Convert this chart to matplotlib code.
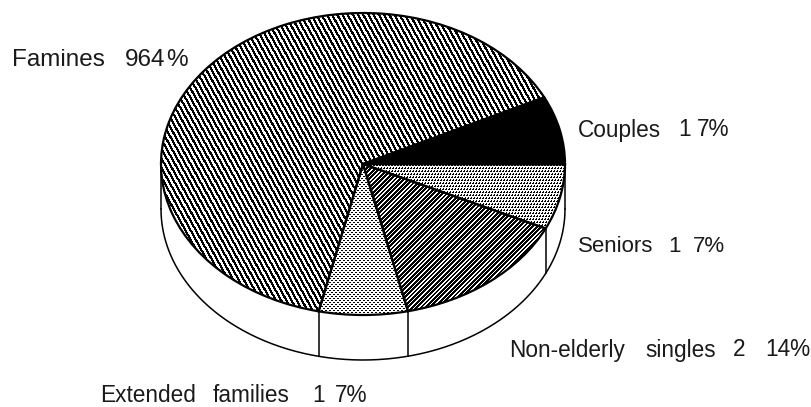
import numpy as np
import matplotlib
matplotlib.use('Agg')
import matplotlib.pyplot as plt

W, H = 811, 407

# pie shares, anticlockwise from the start of the big slice
groups = ['Families', 'Extended families', 'Non-elderly singles', 'Seniors', 'Couples']
shares = [64.2, 7.1, 14.4, 7.0, 7.3]

# label words as printed, the scan spreads them apart so each gets its own x
label_words = [
    ['Famines', '964', '%'],
    ['Couples', '1', '7%'],
    ['Seniors', '1', '7%'],
    ['Non-elderly', 'singles', '2', '14%'],
    ['Extended', 'families', '1', '7%'],
]

# pie geometry in pixels
cx, cy = 363, 164
rx, ry = 202, 151
depth = 45
start = 26.2


def stripes(xx, yy, period, slope, width):
    # True where ink, xx/yy are pixel indices
    return ((xx + slope * yy) % period) < width


def dots(xx, yy, period, rows):
    # staggered dot screen
    shift = (yy // rows) % 2 * (period // 2)
    return (((xx + shift) % period) == 0) & ((yy % rows) == 0)


plt.rcParams['font.family'] = ['Liberation Sans', 'DejaVu Sans']
fig = plt.figure(figsize=(W / 100, H / 100), dpi=100)
ax = fig.add_axes([0, 0, 1, 1])

wedges, _ = ax.pie(shares, startangle=start, radius=1, counterclock=True,
                   colors=['white'] * 5,
                   wedgeprops={'edgecolor': 'black', 'linewidth': 1.6})
ax.set_aspect('auto')

# data units: unit circle squashed into the ellipse
xlim = (-cx / rx, (W - cx) / rx)
ylim = ((cy - H) / ry, cy / ry)
ax.set_xlim(xlim)
ax.set_ylim(ylim)
ax.axis('off')

# side wall of the disc
d = depth / ry
t = np.radians(np.linspace(180, 360, 300))
ax.plot(np.cos(t), np.sin(t) - d, color='black', lw=1.1, zorder=1)
ax.plot([-1, -1], [0, -d], color='black', lw=1.1, zorder=1)
ax.plot([1, 1], [0, -d], color='black', lw=1.1, zorder=1)
edges = start + np.cumsum(shares) / np.sum(shares) * 360
for a in edges[:3]:
    a = np.radians(a)
    ax.plot([np.cos(a), np.cos(a)], [np.sin(a), np.sin(a) - d],
            color='black', lw=1.1, zorder=1)

# slice textures as pixel screens clipped to the wedges
yy, xx = np.mgrid[0:H, 0:W]
screens = [
    stripes(xx, yy, 5.2, -0.55, 2.6),
    dots(xx, yy, 4, 2) | dots(xx + 1, yy, 4, 2),
    stripes(xx, yy, 4.4, 1.0, 2.8),
    dots(xx, yy, 3, 3) | dots(xx + 1, yy, 3, 3) | dots(xx, yy + 1, 3, 3),
    np.ones((H, W), dtype=bool),
]
for w, scr in zip(wedges, screens):
    w.set_zorder(3)
    w.set_facecolor('none')
    im = ax.imshow(1 - scr.astype(float), cmap='gray', vmin=0, vmax=1,
                   extent=(xlim[0], xlim[1], ylim[0], ylim[1]), origin='upper',
                   aspect='auto', interpolation='nearest', zorder=2)
    im.set_clip_path(w)
ax.set_xlim(xlim)
ax.set_ylim(ylim)

# left x of every word, y of each label, and a size per label to fit the scan
word_x = [[12, 125, 166], [578, 678, 697], [578, 668, 693],
          [509, 645, 733, 765], [100, 213, 312, 335]]
label_y = [60, 130, 247, 350, 396]
label_size = [17.5, 16.3, 16, 16.3, 16.3]
for words, xs, y, size in zip(label_words, word_x, label_y, label_size):
    for s, x in zip(words, xs):
        fig.text(x / W, 1 - y / H, s, fontsize=size, color='#1a1a1a',
                 ha='left', va='center')

fig.savefig('out.png', dpi=100, facecolor='white')
